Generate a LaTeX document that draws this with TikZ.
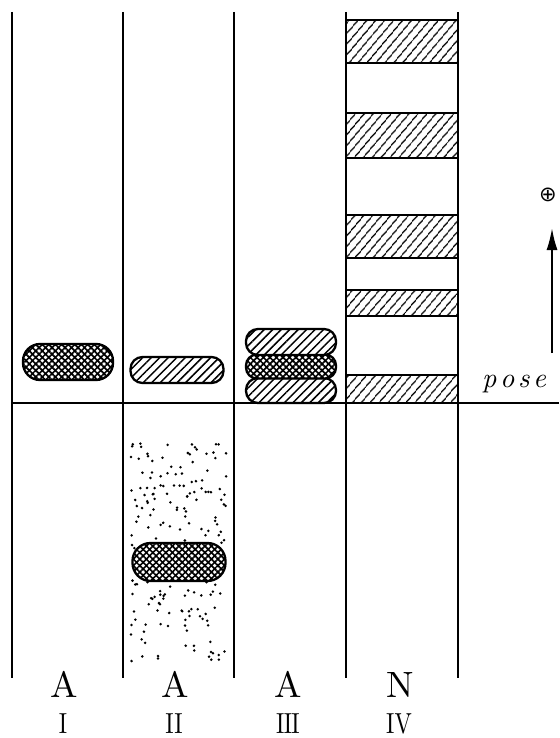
\documentclass[tikz,border=0pt]{standalone}
\usepackage{fontspec}
\setmainfont{Latin Modern Roman}
\newfontfamily\dejavu{DejaVu Sans}
\newcommand\bigtxt[1]{\scalebox{3.66}{#1}}
\newcommand\romtxt[1]{\scalebox{2.3}[2.9]{#1}}
\newcommand\posetxt[1]{\scalebox{2.8}{\itshape #1}}
\newcommand\signtxt[1]{\scalebox{2.1}{\dejavu #1}}
\usetikzlibrary{patterns.meta,arrows.meta}
\begin{document}
\begin{tikzpicture}[x=1pt,y=-1pt,
  lane/.style={line width=2.5pt},
  base/.style={line width=1.3pt},
  hatchblob/.style={draw,line width=2.3pt,rounded corners=12pt,inner sep=0pt,
    preaction={fill=white},
    pattern={Lines[angle=45,distance=6pt,line width=1.5pt]}},
  crossblob/.style={draw,line width=2.3pt,rounded corners=15pt,inner sep=0pt,
    preaction={fill=white},
    pattern={Lines[angle=45,distance=4.6pt,line width=1.7pt]},
    postaction={pattern={Lines[angle=-45,distance=4.6pt,line width=1.7pt]}}},
  band/.style={draw,line width=1.9pt,inner sep=0pt,minimum width=112pt,
    pattern={Lines[angle=50,distance=6.5pt,line width=1.4pt]}},
  big/.style={inner sep=0pt,anchor=base},
  roman/.style={inner sep=0pt,anchor=base}]
\useasboundingbox (0,0) rectangle (559,738);
% lanes
\coordinate (l1t) at (12,12); \coordinate (l1b) at (12,678);
\coordinate (l2t) at (123,12); \coordinate (l2b) at (123,678);
\coordinate (l3t) at (234,12); \coordinate (l3b) at (234,678);
\coordinate (l4t) at (346,12); \coordinate (l4b) at (346,678);
\coordinate (l5t) at (458,12); \coordinate (l5b) at (458,678);
% stipple
\pgfmathsetseed{11}
\foreach \i in {1,...,210}{
  \pgfmathsetmacro\dx{131+96*rnd}
  \pgfmathsetmacro\dy{443+219*rnd}
  \fill (\dx,\dy) circle[radius=1.4pt];
}
% bands lane IV
\node[band,minimum height=43pt] (b1) at (402,41.5) {};
\node[band,minimum height=45pt] (b2) at (402,135.5) {};
\node[band,minimum height=43pt] (b3) at (402,236.5) {};
\node[band,minimum height=26pt] (b4) at (402,303) {};
\node[band,minimum height=28pt] (b5) at (402,389) {};
\draw[lane] (l1t) -- (l1b);
\draw[lane] (l2t) -- (l2b);
\draw[lane] (l3t) -- (l3b);
\draw[lane] (l4t) -- (l4b);
\draw[lane] (l5t) -- (l5b);
% start line
\coordinate (s0) at (12,403); \coordinate (s1) at (559,403);
\draw[base] (s0) -- (s1);
% blobs
\node[crossblob,minimum width=90pt,minimum height=36pt,rounded corners=17pt] (a1) at (68,362) {};
\node[hatchblob,minimum width=93pt,minimum height=26pt] (a2) at (177,370) {};
\node[hatchblob,minimum width=90pt,minimum height=25pt] (a3c) at (291,390.5) {};
\node[crossblob,minimum width=90pt,minimum height=24pt,rounded corners=11pt] (a3b) at (291,366.5) {};
\node[hatchblob,minimum width=90pt,minimum height=26pt] (a3a) at (291,342) {};
\node[crossblob,minimum width=93pt,minimum height=38pt,rounded corners=18pt] (a2b) at (179,562) {};
% arrow and sign
\coordinate (ar0) at (552,353); \coordinate (ar1) at (552,228);
\draw[line width=2pt,-{Latex[length=22pt,width=11pt]}] (ar0) -- (ar1);
\node[inner sep=0pt] (plus) at (548,195) {\signtxt{⊕}};
\node[inner sep=0pt,anchor=base west] (pose) at (482,387) {\posetxt{p\kern1.3pt o\kern1.3pt s\kern1.3pt e}};
% labels
\node[big] (A1) at (64,697) {\bigtxt{A}};
\node[big] (A2) at (175,697) {\bigtxt{A}};
\node[big] (A3) at (288,697) {\bigtxt{A}};
\node[big] (N4) at (400,697) {\bigtxt{N}};
\node[roman] (r1) at (63,733) {\romtxt{I}};
\node[roman] (r2) at (174,733) {\romtxt{II}};
\node[roman] (r3) at (288,733) {\romtxt{I\kern-0.3pt I\kern-0.3pt I}};
\node[roman] (r4) at (399,733) {\romtxt{IV}};
\end{tikzpicture}
\end{document}
